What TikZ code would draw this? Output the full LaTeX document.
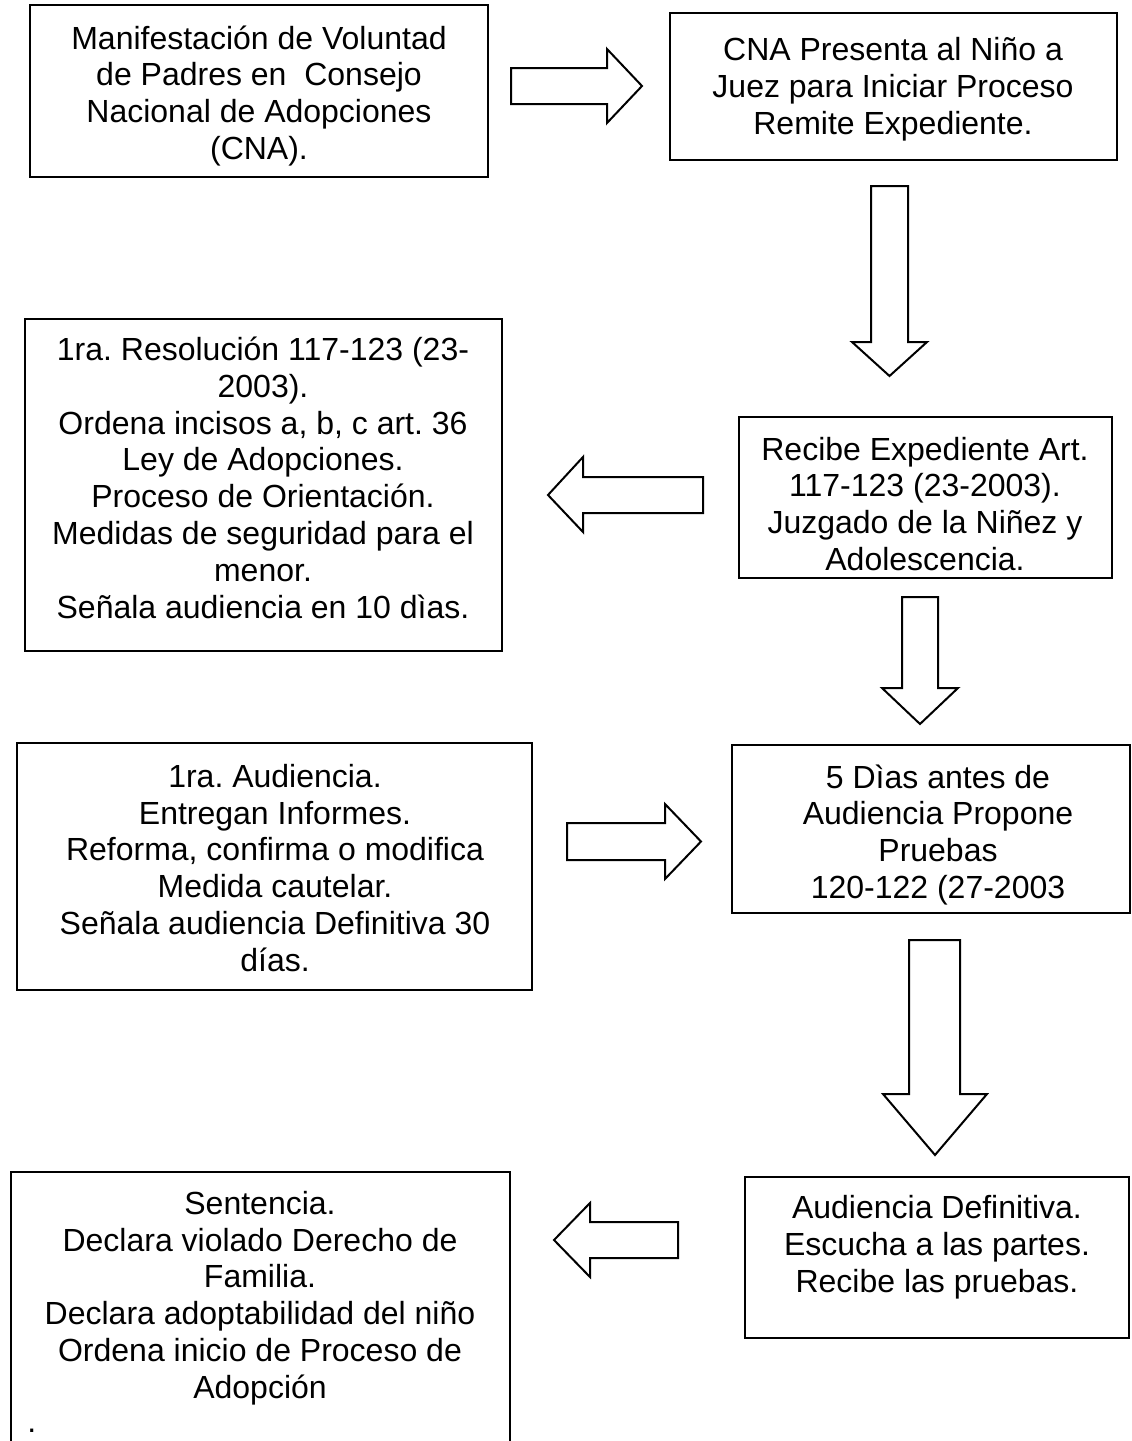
\documentclass[tikz,border=0pt]{standalone}
\usepackage{fontspec}
\setmainfont{Liberation Sans}
\frenchspacing
\begin{document}
\begin{tikzpicture}[x=0.5pt,y=-0.5pt,
  box/.style={draw, line width=1.1pt, inner sep=0pt},
  txt/.style={align=center, inner sep=0pt, font=\fontsize{16}{18.4}\selectfont\frenchspacing},
  blockarrow/.style={draw, line width=1pt, line join=miter, fill=white}]
\useasboundingbox (0,0) rectangle (1131,1441);

% boxes
\node (b1) [box, minimum width=229pt, minimum height=86pt] at (259,91) {};
\node (b2) [box, minimum width=223.5pt, minimum height=73.5pt] at (893.5,86.5) {};
\node (b3) [box, minimum width=186.5pt, minimum height=80.5pt] at (925.5,497.5) {};
\node (b4) [box, minimum width=238.5pt, minimum height=166pt] at (263.5,485) {};
\node (b5) [box, minimum width=199pt, minimum height=84pt] at (931,829) {};
\node (b6) [box, minimum width=257.5pt, minimum height=123.5pt] at (274.5,866.5) {};
\node (b7) [box, minimum width=192pt, minimum height=80.5pt] at (937,1257.5) {};
\coordinate (b8bl) at (11,1441);
\coordinate (b8tl) at (11,1172);
\coordinate (b8tr) at (510,1172);
\coordinate (b8br) at (510,1441);
\draw[line width=1.1pt, line join=miter] (b8bl) -- (b8tl) -- (b8tr) -- (b8br);

% texts
\node (t1) [txt] at (259,97) {\strut Manifestación de Voluntad\\de Padres en\ \ Consejo\\Nacional de Adopciones\\(CNA).\strut};
\node (t2) [txt] at (893,90) {\strut CNA Presenta al Niño a\\Juez para Iniciar Proceso\\Remite Expediente.\strut};
\node (t3) [txt] at (925,508) {\strut Recibe Expediente Art.\\117-123 (23-2003).\\Juzgado de la Niñez y\\Adolescencia.\strut};
\node (t4) [txt] at (263,482) {\strut 1ra. Resolución 117-123 (23-\\2003).\\Ordena incisos a, b, c art. 36\\Ley de Adopciones.\\Proceso de Orientación.\\Medidas de seguridad para el\\menor.\\Señala audiencia en 10 dìas.\strut};
\node (t5) [txt] at (938,836) {\strut 5 Dìas antes de\\Audiencia Propone\\Pruebas\\120-122 (27-2003\strut};
\node (t6) [txt] at (275,872) {\strut 1ra. Audiencia.\\Entregan Informes.\\Reforma, confirma o modifica\\Medida cautelar.\\Señala audiencia Definitiva 30\\días.\strut};
\node (t7) [txt] at (937,1248) {\strut Audiencia Definitiva.\\Escucha a las partes.\\Recibe las pruebas.\strut};
\node (t8) [txt] at (260,1299) {\strut Sentencia.\\Declara violado Derecho de\\Familia.\\Declara adoptabilidad del niño\\Ordena inicio de Proceso de\\Adopción\strut};
\node (dot) [anchor=base west, inner sep=0pt, font=\fontsize{16}{18.4}\selectfont] at (27,1432) {.};

% block arrows
\draw[blockarrow] (511,68) -- (607,68) -- (607,49) -- (642,86) -- (607,123) -- (607,104) -- (511,104) -- cycle;
\draw[blockarrow] (871,186) -- (908,186) -- (908,342) -- (927,342) -- (889.5,376) -- (852,342) -- (871,342) -- cycle;
\draw[blockarrow] (703,477) -- (583,477) -- (583,457) -- (548,495) -- (583,532) -- (583,513) -- (703,513) -- cycle;
\draw[blockarrow] (902,597) -- (938,597) -- (938,688) -- (958,688) -- (920,724) -- (882,688) -- (902,688) -- cycle;
\draw[blockarrow] (567,823) -- (665,823) -- (665,804) -- (701,841.5) -- (665,879) -- (665,860) -- (567,860) -- cycle;
\draw[blockarrow] (909,940) -- (960,940) -- (960,1094) -- (987,1094) -- (935,1155) -- (883,1094) -- (909,1094) -- cycle;
\draw[blockarrow] (678,1222) -- (590,1222) -- (590,1203) -- (554,1240) -- (590,1277) -- (590,1258) -- (678,1258) -- cycle;
\end{tikzpicture}
\end{document}
